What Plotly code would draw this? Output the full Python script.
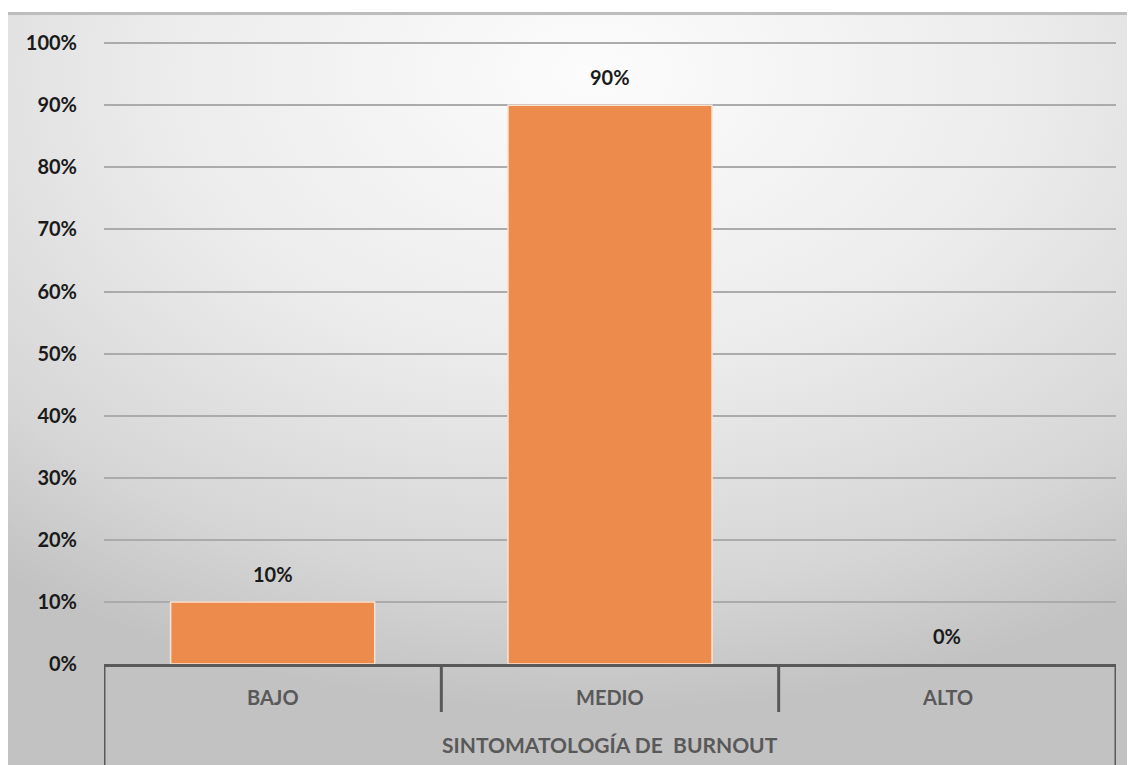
import base64
import plotly.graph_objects as go

categories = ["BAJO", "MEDIO", "ALTO"]
values = [0.10, 0.90, 0.00]
value_labels = ["10%", "90%", "0%"]
group_label = "SINTOMATOLOGÍA DE&nbsp; BURNOUT"
y_ticks = [i / 10 for i in range(11)]
y_tick_labels = [f"{i * 10}%" for i in range(11)]

OFF = 8  # page body margin
W, H = 1135 - OFF, 765 - OFF
YMAX = 1.002
L = 104 - OFF
R = 1135 - 1116
B = 765 - 664
PW = W - L - R
PH_unit = (664 - 43)  # pixels per 1.0
T = (43 - OFF) - int(round((YMAX - 1) * PH_unit))
PH = H - T - B

def px_x(p):
    return (p - OFF - L) / PW

def px_y(p):
    return (H - B - (p - OFF)) / PH

svg = (
    '<svg xmlns="http://www.w3.org/2000/svg" width="1000" height="1000" preserveAspectRatio="none" viewBox="0 0 1000 1000">'
    '<defs><radialGradient id="g" cx="52%" cy="8%" r="85%" fx="52%" fy="8%">'
    '<stop offset="0" stop-color="#fcfcfc"/><stop offset="0.45" stop-color="#ececec"/>'
    '<stop offset="0.8" stop-color="#d6d6d6"/><stop offset="1" stop-color="#c2c2c2"/>'
    '</radialGradient></defs>'
    '<rect width="1000" height="1000" fill="url(#g)"/>'
    '<rect width="1000" height="4" fill="#bdbdbd"/>'
    '</svg>'
)
src = "data:image/svg+xml;base64," + base64.b64encode(svg.encode()).decode()

fig = go.Figure()
fig.add_trace(go.Bar(
    x=categories, y=values,
    marker=dict(color="#EC8B4C",
                line=dict(color="#FBE3D2", width=[0 if v == 0 else 1.5 for v in values])),
    hoverinfo="skip",
))

FONT = "Lato"
annotations = []
for c, v, t in zip(categories, values, value_labels):
    annotations.append(dict(x=c, y=v, xref="x", yref="y", text=f"<b>{t}</b>",
                            showarrow=False, yanchor="bottom", yshift=14,
                            font=dict(family=FONT, size=20, color="#1a1a1a")))
for c in categories:
    annotations.append(dict(x=c, y=px_y(697), xref="x", yref="paper", text=f"<b>{c}</b>",
                            showarrow=False, yanchor="middle",
                            font=dict(family=FONT, size=20, color="#595959")))
annotations.append(dict(x=0.5, y=px_y(744), xref="paper", yref="paper", text=f"<b>{group_label}</b>",
                        showarrow=False, yanchor="middle",
                        font=dict(family=FONT, size=21, color="#595959")))

shapes = []
n = len(categories)
for i in range(n + 1):
    outer = i == 0 or i == n
    shapes.append(dict(type="line", xref="x", yref="paper", x0=i - 0.5, x1=i - 0.5,
                       y0=0, y1=px_y(770) if outer else px_y(712),
                       line=dict(color="#595959", width=3)))

fig.update_layout(
    width=W, height=H,
    margin=dict(l=L, r=R, t=T, b=B),
    paper_bgcolor="white",
    plot_bgcolor="rgba(0,0,0,0)",
    bargap=0.395,
    showlegend=False,
    annotations=annotations,
    shapes=shapes,
    images=[dict(source=src, xref="paper", yref="paper", x=px_x(8), y=px_y(12),
                 sizex=(1135 - 8) / PW, sizey=(765 - 12) / PH, sizing="stretch",
                 xanchor="left", yanchor="top", layer="below")],
    xaxis=dict(showticklabels=False, showgrid=False, zeroline=False,
               showline=True, linecolor="#595959", linewidth=3,
               range=[-0.5, n - 0.5], fixedrange=True),
    yaxis=dict(range=[0, YMAX], tickvals=y_ticks, ticktext=[f"<b>{t}</b>" for t in y_tick_labels],
               showgrid=True, gridcolor="#ababab", gridwidth=1.5, zeroline=False,
               ticks="outside", ticklen=22, tickcolor="rgba(0,0,0,0)",
               tickfont=dict(family=FONT, size=20, color="#1a1a1a"), fixedrange=True),
)

fig.write_html("out.html")
